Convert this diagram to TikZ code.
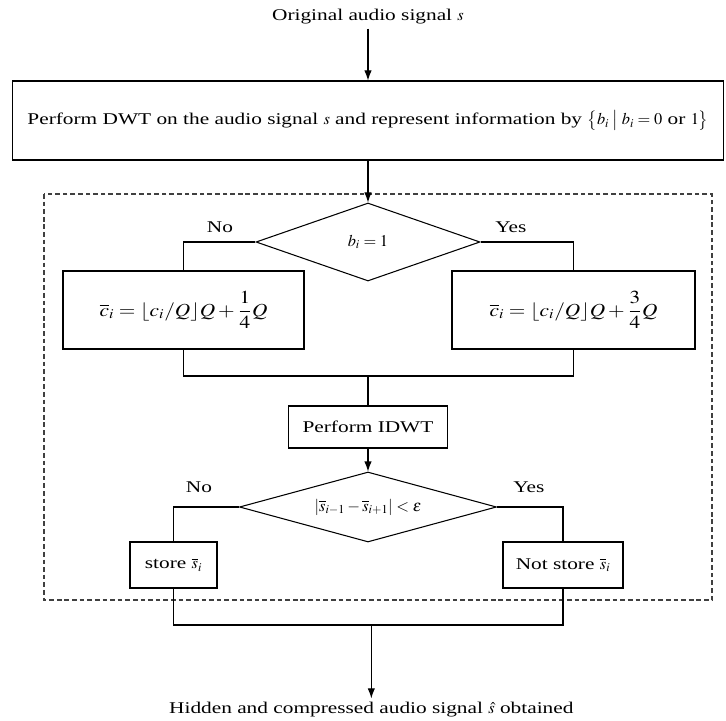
\documentclass[tikz,border=0pt]{standalone}
\usepackage{mathptmx}
\usepackage{fontspec}
\setmainfont{Liberation Serif}[FakeStretch=1.3]
\usetikzlibrary{shapes.geometric,arrows.meta}

\newcommand{\widemath}[1]{\scalebox{1.3}[1.12]{#1}}

\begin{document}
\begin{tikzpicture}[
                        node distance=2cm,
                        font=\fontsize{14}{16}\selectfont,
                        block/.style={
                            rectangle,
                            draw,
                            line width=0.9pt,
                            align=center,
                            inner sep=2pt
                        },
                        decision/.style={
                            diamond,
                            draw,
                            line width=0.9pt,
                            inner sep=0pt
                        },
                        line/.style={
                            draw,
                            line width=0.9pt
                        },
                        arrow/.style={
                            draw,
                            line width=0.9pt,
                            -{Latex[length=3mm,width=2.2mm]}
                        },
                        frame/.style={
                            draw=black!75,
                            line width=0.9pt,
                            dash pattern=on 4pt off 2.5pt
                        }]

                        \useasboundingbox (-11.04,0.51) rectangle (10.74,-21.12);

                        % dashed frame round the embedding loop
                        \draw [frame] (-9.72,-5.31) rectangle (10.32,-17.49);

                        \node (title) {Original audio signal $s$};
                        \node (dwt) [block, below of=title, node distance=3.105cm, minimum width=21.33cm, minimum height=2.37cm] {Perform DWT on the audio signal $s$ and represent information by $\bigl\{ b_i \;\big|\; b_i = 0 \mbox{ or } 1 \bigr\}$};
                        \node (test1) [decision, aspect=2.9, below of=dwt, node distance=3.645cm, minimum width=6.72cm, minimum height=2.34cm] {$b_i = 1$};
                        \node (cleft) [block, below of=test1, node distance=2.04cm, xshift=-5.535cm, minimum width=7.23cm, minimum height=2.34cm] {\widemath{$\displaystyle \overline{c}_i = \lfloor c_i / Q \rfloor Q + \frac{1}{4} Q$}};
                        \node (cright) [block, below of=test1, node distance=2.04cm, xshift=6.165cm, minimum width=7.29cm, minimum height=2.34cm] {\widemath{$\displaystyle \overline{c}_i = \lfloor c_i / Q \rfloor Q + \frac{3}{4} Q$}};
                        \node (idwt) [block, below of=test1, node distance=5.55cm, minimum width=4.77cm, minimum height=1.26cm] {Perform IDWT};
                        \node (test2) [decision, aspect=3.7, below of=idwt, node distance=2.4cm, minimum width=7.71cm, minimum height=2.1cm] {$\left| \overline{s}_{i-1} - \overline{s}_{i+1} \right| < \varepsilon$};
                        \node (store) [block, below of=test2, node distance=1.74cm, xshift=-5.835cm, minimum width=2.61cm, minimum height=1.38cm] {store $\overline{s}_i$};
                        \node (notstore) [block, below of=test2, node distance=1.74cm, xshift=5.85cm, minimum width=3.6cm, minimum height=1.38cm] {Not store $\overline{s}_i$};
                        \node (result) [below of=test2, node distance=6.09cm, xshift=0.1cm] {Hidden and compressed audio signal $\hat{s}$ obtained};

                        \node (no1) [above of=test1, node distance=0.45cm, xshift=-4.44cm] {No};
                        \node (yes1) [above of=test1, node distance=0.45cm, xshift=4.29cm] {Yes};
                        \node (no2) [above of=test2, node distance=0.6cm, xshift=-5.07cm] {No};
                        \node (yes2) [above of=test2, node distance=0.6cm, xshift=4.83cm] {Yes};

                        \node (join1) [coordinate, below of=test1, node distance=4.02cm] {};
                        \node (join2) [coordinate, below of=test2, node distance=3.54cm, xshift=0.1cm] {};

                        \draw [arrow] (title) -- (dwt);
                        \draw [arrow] (dwt) -- (test1);
                        \draw [line] (test1.west) -| (cleft.north);
                        \draw [line] (test1.east) -| (cright.north);
                        \draw [line] (cleft.south) |- (join1) -| (cright.south);
                        \draw [line] (join1) -- (idwt.north);
                        \draw [arrow] (idwt) -- (test2);
                        \draw [line] (test2.west) -| (store.north);
                        \draw [line] (test2.east) -| (notstore.north);
                        \draw [line] (store.south) |- (join2) -| (notstore.south);
                        \draw [arrow] (join2) -- (result);

                    \end{tikzpicture}
\end{document}
